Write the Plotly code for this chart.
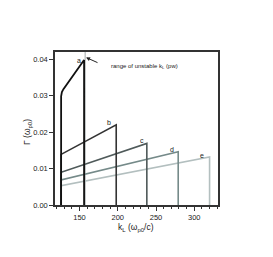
import plotly.graph_objects as go

# data
a_k = [126, 126, 127, 129, 156, 156]
a_g = [0.0, 0.0298, 0.0310, 0.0318, 0.0398, 0.0]
k_start = 126
ends_k = [198, 238, 279, 320]
start_g = [0.0139, 0.0090, 0.0069, 0.0053]
end_g = [0.0220, 0.0169, 0.0146, 0.0132]
names = ["b", "c", "d", "e"]
range_k = 157.5
range_top = 0.042

colors_bcde = ["#333333", "#4f5a5a", "#758a89", "#b3bfbf"]

fig = go.Figure()

# range of unstable k line
fig.add_trace(go.Scatter(x=[range_k, range_k], y=[0, range_top], mode="lines",
                         line=dict(color="#c4c8c8", width=1.6), showlegend=False, hoverinfo="skip"))

# curves e..b (lighter drawn first)
for i in reversed(range(4)):
    fig.add_trace(go.Scatter(
        x=[k_start, k_start, ends_k[i], ends_k[i]],
        y=[0, start_g[i], end_g[i], 0],
        mode="lines", line=dict(color=colors_bcde[i], width=1.6),
        showlegend=False, hoverinfo="skip"))

fig.add_trace(go.Scatter(x=a_k, y=a_g, mode="lines",
                         line=dict(color="#111111", width=1.8),
                         showlegend=False, hoverinfo="skip"))

# labels
lab_k = [150, 188, 232, 271, 310]
lab_g = [0.0397, 0.0227, 0.0178, 0.0153, 0.0137]
for t, xk, yg in zip(["a"] + names, lab_k, lab_g):
    fig.add_annotation(x=xk, y=yg, text=t, showarrow=False,
                       font=dict(size=7, color="#222", family="Liberation Sans"))

fig.add_annotation(x=188, y=0.0379, text="range of unstable k<sub>L</sub> (pw)", showarrow=False,
                   xanchor="left", font=dict(size=6, color="#222", family="Liberation Sans"))
fig.add_annotation(x=158.6, y=0.0405, ax=175.5, ay=0.0389, axref="x", ayref="y",
                   text="", showarrow=True, arrowhead=2, arrowsize=0.8, arrowwidth=1, arrowcolor="#222")

# axis titles
fig.add_annotation(xref="paper", yref="paper", x=-0.172, y=0.477, text="Γ (ω<sub>p0</sub>)",
                   textangle=-90, showarrow=False, xanchor="center", yanchor="middle",
                   font=dict(size=8.5, color="#222", family="Liberation Sans"))
fig.add_annotation(xref="paper", yref="paper", x=0.497, y=-0.148, text="k<sub>L</sub> (ω<sub>p0</sub>/c)",
                   showarrow=False, xanchor="center", yanchor="middle",
                   font=dict(size=8.5, color="#222", family="Liberation Sans"))

axis_common = dict(showline=True, linecolor="#333", linewidth=1.5, mirror=True,
                   ticks="outside", ticklen=4, tickwidth=1, tickcolor="#333",
                   showgrid=False, zeroline=False, automargin=False,
                   tickfont=dict(size=7.5, color="#222", family="Liberation Sans"))

fig.update_xaxes(range=[118, 331], tickvals=[150, 200, 250, 300],
                 minor=dict(ticks="outside", ticklen=2, dtick=10, tick0=0, tickcolor="#333"),
                 **axis_common)
fig.update_yaxes(range=[0, 0.042], tickvals=[0, 0.01, 0.02, 0.03, 0.04],
                 ticktext=["0.00", "0.01", "0.02", "0.03", "0.04"],
                 **axis_common)

fig.update_layout(width=273, height=257, margin=dict(l=47, r=63, t=44, b=60, autoexpand=False),
                  paper_bgcolor="white", plot_bgcolor="white")

fig.write_html("out.html")
